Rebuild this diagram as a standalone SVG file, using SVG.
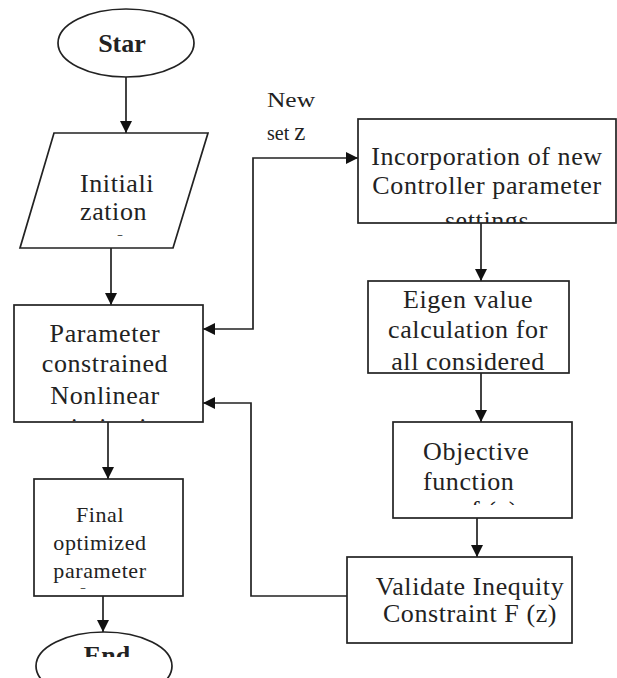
<svg xmlns="http://www.w3.org/2000/svg" width="617" height="678" viewBox="0 0 617 678">
<style>
.shape{fill:#fff;stroke:#222;stroke-width:1.7}
.conn{fill:none;stroke:#222;stroke-width:1.7}
.t{font-family:"Liberation Serif","Times New Roman",serif;font-size:26px;fill:#222;text-anchor:middle;letter-spacing:0.6px}
.s{font-size:22px}
.b{font-weight:bold;letter-spacing:0}
.l{text-anchor:start}
.h{font-size:9px;letter-spacing:0;font-weight:bold}
</style>
<defs>
<marker id="arr" markerUnits="userSpaceOnUse" markerWidth="13" markerHeight="13" refX="12" refY="6" orient="auto-start-reverse">
<path d="M0,0 L12,6 L0,12 z" fill="#111"/>
</marker>
<clipPath id="cParam"><rect x="14" y="305" width="189" height="116"/></clipPath>
<clipPath id="cIncorp"><rect x="358" y="119" width="258" height="104"/></clipPath>
<clipPath id="cObj"><rect x="393" y="422" width="179" height="83"/></clipPath>
<clipPath id="cEnd"><rect x="0" y="600" width="617" height="57"/></clipPath>
</defs>
<rect width="617" height="678" fill="#fff"/>
<g id="connectors">
<path class="conn" d="M126,77 V133" marker-end="url(#arr)"/>
<path class="conn" d="M111,248 V305" marker-end="url(#arr)"/>
<path class="conn" d="M108,422 V479" marker-end="url(#arr)"/>
<path class="conn" d="M103,596 V632" marker-end="url(#arr)"/>
<path class="conn" d="M481,223 V281" marker-end="url(#arr)"/>
<path class="conn" d="M481,373 V422" marker-end="url(#arr)"/>
<path class="conn" d="M477,518 V557" marker-end="url(#arr)"/>
<path class="conn" d="M347,596 H251 V403 H203" marker-end="url(#arr)"/>
<path class="conn" d="M203,329 H253 V158 H358" marker-start="url(#arr)" marker-end="url(#arr)"/>
</g>
<g id="label-newset">
<text class="t l" x="267" y="107" style="font-size:20px;letter-spacing:0" textLength="48" lengthAdjust="spacingAndGlyphs">New</text>
<text class="t l" x="267" y="140" style="font-size:20px;letter-spacing:0">set <tspan style="font-size:25px">z</tspan></text>
</g>
<g id="start">
<ellipse class="shape" cx="126" cy="43" rx="68" ry="34"/>
<text class="t b" x="122" y="52">Star</text>
</g>
<g id="init">
<path class="shape" d="M54,133 L208,133 L173,248 L20,248 Z"/>
<text class="t l" x="80" y="192">Initiali</text>
<text class="t l" x="80" y="220">zation</text>
<text class="t h l" x="117" y="238" textLength="6" lengthAdjust="spacingAndGlyphs">-</text>
</g>
<g id="param">
<rect class="shape" x="14" y="305" width="189" height="117"/>
<text class="t" x="105" y="342">Parameter</text>
<text class="t" x="105" y="372">constrained</text>
<text class="t" x="105" y="404">Nonlinear</text>
<text class="t" x="105" y="436" clip-path="url(#cParam)">optimization</text>
</g>
<g id="final">
<rect class="shape" x="34" y="479" width="149" height="117"/>
<text class="t s" x="100" y="522">Final</text>
<text class="t s" x="100" y="550">optimized</text>
<text class="t s" x="100" y="578">parameter</text>
<text class="t h l" x="80" y="591" textLength="6" lengthAdjust="spacingAndGlyphs">-</text>
</g>
<g id="end">
<ellipse class="shape" cx="104" cy="666" rx="68" ry="34"/>
<text class="t b" x="107" y="664" clip-path="url(#cEnd)">End</text>
</g>
<g id="incorp">
<rect class="shape" x="358" y="119" width="258" height="104"/>
<text class="t" x="487" y="165">Incorporation of new</text>
<text class="t" x="487" y="194">Controller parameter</text>
<text class="t" x="487" y="229" clip-path="url(#cIncorp)">settings</text>
</g>
<g id="eigen">
<rect class="shape" x="368" y="281" width="201" height="92"/>
<text class="t" x="468" y="308">Eigen value</text>
<text class="t" x="468" y="338">calculation for</text>
<text class="t" x="468" y="370">all considered</text>
</g>
<g id="objective">
<rect class="shape" x="393" y="422" width="179" height="96"/>
<text class="t l" x="423" y="460">Objective</text>
<text class="t l" x="423" y="490">function</text>
<text class="t l" x="471" y="519" clip-path="url(#cObj)">f (z)</text>
</g>
<g id="validate">
<rect class="shape" x="347" y="557" width="225" height="86"/>
<text class="t" x="470" y="595">Validate Inequity</text>
<text class="t" x="470" y="622">Constraint F (z)</text>
</g>
</svg>
